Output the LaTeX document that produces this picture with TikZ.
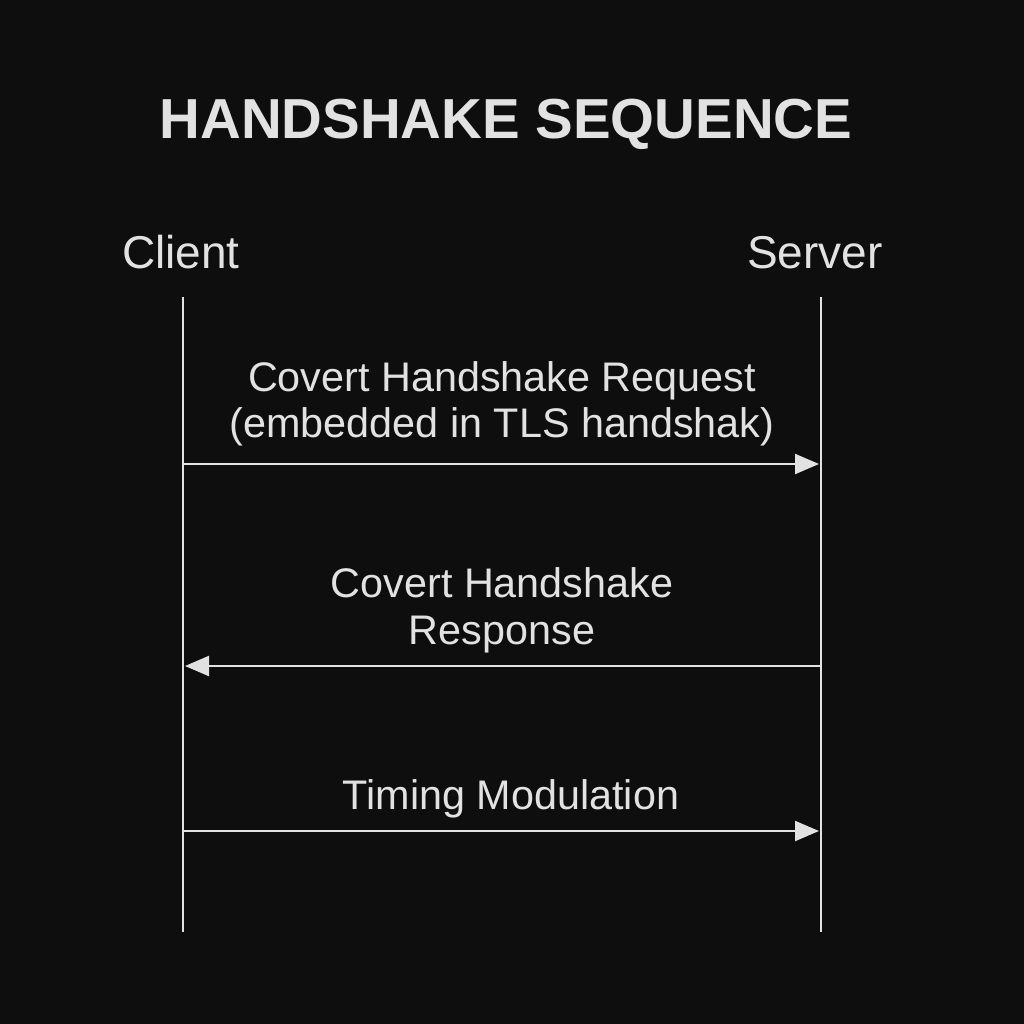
\documentclass[tikz,border=0pt]{standalone}
\usepackage{fontspec}
\setmainfont{Liberation Sans}
\usetikzlibrary{arrows.meta}
\definecolor{bg}{HTML}{0E0E0E}
\definecolor{fg}{HTML}{E2E2E2}
\begin{document}
\begin{tikzpicture}[x=0.75pt,y=-0.75pt,
  lifeline/.style={draw=fg,line width=1.8pt},
  msg/.style={draw=fg,line width=1.6pt,-{Triangle[length=18pt,width=15pt,fill=fg]},shorten >=1.5pt},
  lbl/.style={text=fg,font=\fontsize{31}{35}\selectfont,anchor=base,align=center,inner sep=0pt},
  actor/.style={text=fg,font=\fontsize{34.5}{40}\selectfont,anchor=base,inner sep=0pt}]
\fill[bg] (0,0) rectangle (1024,1024);
\useasboundingbox (0,0) rectangle (1024,1024);
\node[text=fg,font=\fontsize{42.3}{48}\selectfont\bfseries,anchor=base,inner sep=0pt] (title) at (506,138) {HANDSHAKE SEQUENCE};
\node[actor] (client) at (181,268) {Client};
\node[actor] (server) at (815,268) {Server};
\coordinate (ct) at (183,297);
\coordinate (cb) at (183,932);
\coordinate (st) at (821,297);
\coordinate (sb) at (821,932);
\draw[lifeline] (ct) -- (cb);
\draw[lifeline] (st) -- (sb);
\coordinate (c1) at (183,464);
\coordinate (s1) at (821,464);
\coordinate (c2) at (183,666);
\coordinate (s2) at (821,666);
\coordinate (c3) at (183,831);
\coordinate (s3) at (821,831);
\draw[msg] (c1) -- (s1);
\draw[msg] (s2) -- (c2);
\draw[msg] (c3) -- (s3);
\node[lbl] (l1a) at (502,391) {Covert Handshake Request};
\node[lbl] (l1b) at (502,437) {(embedded in TLS handshak)};
\node[lbl] (l2a) at (502,597) {Covert Handshake};
\node[lbl] (l2b) at (502,644) {Response};
\node[lbl] (l3) at (511,809) {Timing Modulation};
\end{tikzpicture}
\end{document}
